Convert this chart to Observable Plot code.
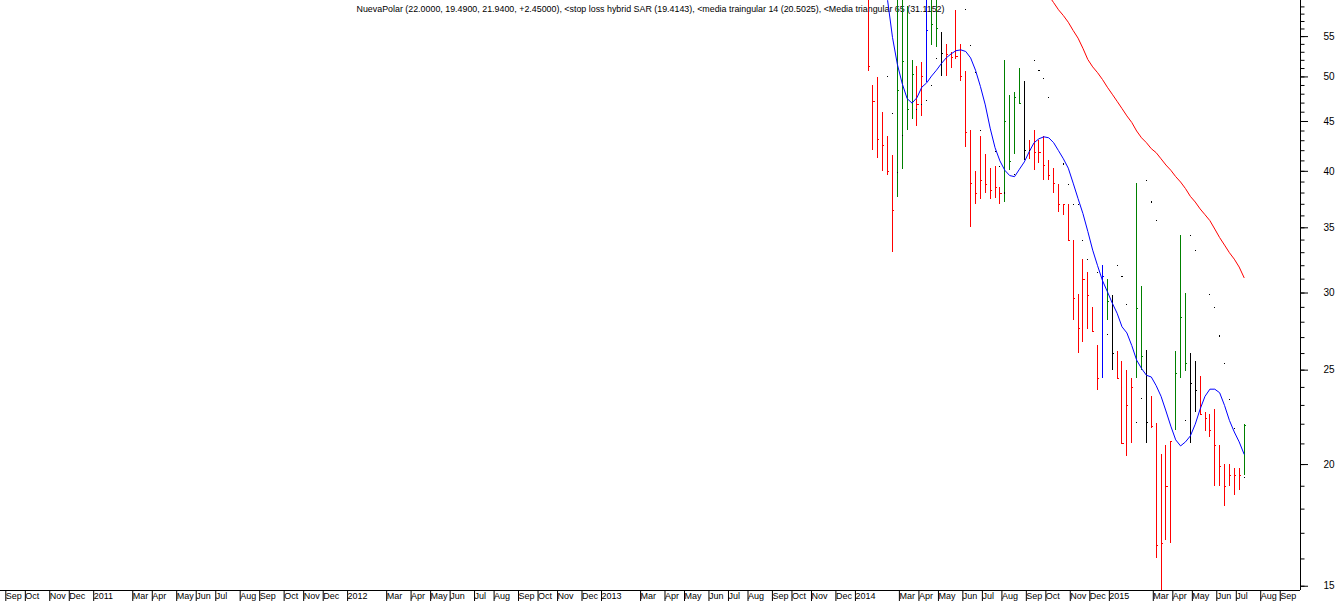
<!DOCTYPE html>
<html>
<head>
<meta charset="utf-8">
<script src="https://cdn.jsdelivr.net/npm/d3@7"></script>
<script src="https://cdn.jsdelivr.net/npm/@observablehq/plot@0.6"></script>
<style>
  html, body { margin: 0; padding: 0; background: #fff; }
  #chart { width: 1338px; height: 604px; overflow: hidden; }
</style>
</head>
<body>
<div id="chart"></div>
<script>
// ---------- DATA (weekly bars, NuevaPolar) ----------
const titleText = "NuevaPolar (22.0000, 19.4900, 21.9400, +2.45000), <stop loss hybrid SAR (19.4143), <media traingular 14 (20.5025), <Media triangular 65 (31.1152)";

const firstWeek = "2014-01-20"; // Monday of the first visible weekly bar

const high = [64, 49.0, 49.9, 46.0, 43.4, 41.5, 63, 62, 59, 52.0,
  51.3, 51.7, 63, 61, 61, 55.5, 54.0, 53.0, 58.5, 54.0,
  50.6, 44.1, 40.0, 43.4, 41.6, 40.3, 40.5, 38.5, 52.0, 47.8,
  48.2, 51.0, 49.5, 43.0, 44.1, 43.0, 43.4, 41.0, 40.3, 38.8,
  37.0, 37.0, 34.0, 29.9, 32.5, 31.5, 29.0, 26.5, 32.0, 31.0,
  29.8, 26.1, 25.5, 25.0, 24.5, 38.9, 30.5, 26.2, 23.5, 22.05,
  20.5, 20.9, 21.1, 26.1, 34.4, 30.0, 26.0, 25.5, 24.6, 22.6,
  22.5, 22.8, 20.9, 20.0, 20.0, 19.8, 19.8, 22.0];

const low = [50.6, 42.0, 41.2, 40.0, 39.6, 33.0, 37.6, 40.2, 44.1, 45.2,
  44.5, 45.5, 49.4, 53.9, 53.6, 50.1, 50.1, 51.0, 52.1, 49.5,
  42.3, 35.0, 37.0, 37.4, 38.0, 37.4, 37.5, 37.0, 37.2, 40.1,
  41.6, 47.0, 41.0, 41.1, 40.1, 40.7, 39.1, 39.1, 38.0, 36.3,
  36.0, 34.0, 28.1, 26.0, 26.7, 27.5, 27.4, 23.8, 24.5, 28.1,
  25.0, 24.5, 21.0, 20.4, 21.0, 24.5, 25.0, 21.0, 21.8, 16.0,
  14.7, 16.7, 16.6, 21.7, 24.5, 24.9, 21.0, 22.6, 22.5, 21.6,
  21.3, 19.0, 19.0, 18.1, 19.0, 18.6, 18.8, 19.49];

const close = [51.2, 47.2, 43.1, 42.5, 40.0, 36.5, 48.4, 51.8, 46.3, 50.3,
  46.8, 50.0, 55.8, 56.6, 56.0, 52.9, 52.7, 52.4, 52.5, 50.1,
  43.8, 38.9, 38.0, 39.1, 38.8, 38.2, 38.5, 38.0, 45.0, 40.9,
  47.6, 47.0, 42.0, 42.1, 41.8, 41.8, 40.6, 39.6, 38.9, 37.0,
  37.0, 34.0, 29.6, 27.6, 31.0, 29.8, 27.4, 24.5, 31.2, 29.4,
  26.0, 24.5, 21.0, 23.0, 24.0, 28.9, 25.8, 22.1, 21.9, 16.5,
  16.6, 19.0, 21.1, 24.8, 28.3, 25.4, 24.2, 23.8, 22.5, 22.3,
  21.7, 20.9, 19.9, 19.0, 19.5, 19.5, 19.49, 21.94];

// bar state (coloured by the charting package)
const barState = [
  "down","down","down","down","down","down","up","up","up","up",
  "down","down","turn","up","up","flat","down","down","down","down",
  "down","down","down","down","down","down","down","down","up","up",
  "up","up","flat","down","down","down","down","down","down","down",
  "down","down","down","down","down","down","down","down","turn","up",
  "flat","down","down","down","down","up","up","flat","down","down",
  "down","down","down","up","up","up","flat","flat","down","down",
  "down","down","down","down","down","down","down","up"];

// stop loss hybrid SAR (null = no dot drawn)
const sar = [null, null, null, null, 50.1, 45.9, 39.9, 43.5, null, null,
  46.3, 46.8, 47.3, 49.0, 52.2, null, null, null, null, null,
  58.6, 53.9, 50.5, 44.1, null, null, 41.9, 40.5, 38.0, null,
  39.7, null, null, 42.0, 52.0, 50.8, 49.8, 47.6, null, null,
  40.7, 38.8, 37.0, 37.0, 34.0, 32.5, null, 31.5, null, 27.2,
  26.0, 32.0, 31.2, 29.2, null, 22.1, 23.4, 39.1, 37.2, 35.6,
  null, null, null, null, null, 22.2, 34.4, 33.2, null, null,
  29.9, 29.0, 27.1, 25.4, 23.3, 21.8, null, 19.41];

// media triangular 14 (starts 3 bars after firstWeek)
const ma14Offset = 3;
const ma14 = [63.5, 59.9, 54.9, 51.5, 49.2, 47.5, 47.0, 47.6, 48.8, 49.3,
  50.1, 50.8, 51.6, 52.3, 52.8, 53.2, 53.3, 53.1, 52.3, 50.8,
  48.9, 46.8, 44.3, 42.3, 41.0, 40.1, 39.6, 39.5, 40.2, 40.9,
  41.9, 42.8, 43.2, 43.4, 43.3, 42.8, 42.0, 41.2, 40.3, 38.9,
  37.5, 36.2, 34.7, 33.2, 32.0, 30.9, 30.1, 29.3, 28.6, 27.7,
  27.3, 26.5, 25.6, 25.1, 24.7, 24.6, 24.1, 23.5, 22.7, 21.9,
  21.2, 20.9, 21.1, 21.4, 22.0, 22.8, 23.5, 23.9, 23.9, 23.7,
  23.0, 22.2, 21.6, 21.1, 20.5025];

// media triangular 65 (starts 35 bars after firstWeek)
const ma65Offset = 35;
const ma65 = [63.5, 62.1, 60.6, 59.6, 58.6, 57.8, 56.9, 55.8, 54.8, 53.5,
  52.1, 51.2, 50.5, 49.7, 48.8, 48.0, 47.2, 46.4, 45.6, 44.9,
  44.0, 43.3, 42.8, 42.2, 41.8, 41.2, 40.6, 40.1, 39.5, 39.0,
  38.4, 37.7, 37.2, 36.6, 36.1, 35.6, 34.9, 34.2, 33.6, 33.0,
  32.5, 31.9, 31.1152];

// x axis: months that carry a tick, and their labels
const tickMonths = ["2010-09","2010-10","2010-11","2010-12",
  "2011-01","2011-03","2011-04","2011-05","2011-06","2011-07","2011-08","2011-09","2011-10","2011-11","2011-12",
  "2012-01","2012-03","2012-04","2012-05","2012-06","2012-07","2012-08","2012-09","2012-10","2012-11","2012-12",
  "2013-01","2013-03","2013-04","2013-05","2013-06","2013-07","2013-08","2013-09","2013-10","2013-11","2013-12",
  "2014-01","2014-03","2014-04","2014-05","2014-06","2014-07","2014-08","2014-09","2014-10","2014-11","2014-12",
  "2015-01","2015-03","2015-04","2015-05","2015-06","2015-07","2015-08","2015-09"];
const tickLabels = ["Sep","Oct","Nov","Dec",
  "2011","Mar","Apr","May","Jun","Jul","Aug","Sep","Oct","Nov","Dec",
  "2012","Mar","Apr","May","Jun","Jul","Aug","Sep","Oct","Nov","Dec",
  "2013","Mar","Apr","May","Jun","Jul","Aug","Sep","Oct","Nov","Dec",
  "2014","Mar","Apr","May","Jun","Jul","Aug","Sep","Oct","Nov","Dec",
  "2015","Mar","Apr","May","Jun","Jul","Aug","Sep"];

// y axis (log) labelled and minor ticks
const yLabelled = [15, 20, 25, 30, 35, 40, 45, 50, 55];
const yMinor = d3.range(15, 60);

// ---------- BUILD ----------
const start = new Date(firstWeek + "T00:00:00Z");
const weekDate = i => d3.utcMonday.offset(start, i);

const bars = high.map((h, i) => ({
  date: weekDate(i), high: h, low: low[i], close: close[i], state: barState[i]
}));
const sarPts = sar.map((v, i) => ({date: weekDate(i), v})).filter(d => d.v != null);
const ma14Pts = ma14.map((v, i) => ({date: weekDate(i + ma14Offset), v}));
const ma65Pts = ma65.map((v, i) => ({date: weekDate(i + ma65Offset), v}));

// a month's tick sits on the weekly bar holding its first trading day
function monthTick(ym) {
  let d = new Date(ym + "-01T00:00:00Z");
  const wd = d.getUTCDay();
  if (wd === 6) d = d3.utcDay.offset(d, 2);
  if (wd === 0) d = d3.utcDay.offset(d, 1);
  return d3.utcMonday.floor(d);
}
const tickDates = tickMonths.map(monthTick);
const labelOf = new Map(tickDates.map((d, i) => [+d, tickLabels[i]]));

const xDomain = [new Date(Date.UTC(2010, 7, 25, 6, 29)), new Date(Date.UTC(2015, 9, 1, 21, 36))];
const yDomain = [14.85, 59.9];

const chart = Plot.plot({
  width: 1338,
  height: 604,
  marginLeft: 0,
  marginRight: 38,
  marginTop: 0,
  marginBottom: 14,
  style: {fontFamily: "'Liberation Sans', Arial, sans-serif", background: "#fff", color: "#000"},
  x: {type: "utc", domain: xDomain},
  y: {type: "log", domain: yDomain},
  color: {domain: ["down", "up", "flat", "turn"], range: ["#ff0000", "#008000", "#000000", "#0000ff"]},
  marks: [
    Plot.text([titleText], {frameAnchor: "top", dy: 5, fontSize: 9.5, fill: "#000"}),
    Plot.ruleX(bars, {x: "date", y1: "low", y2: "high", stroke: "state", strokeWidth: 1, clip: true, shapeRendering: "crispEdges"}),
    Plot.ruleY(bars, {y: "close", x1: "date", x2: d => d3.utcDay.offset(d.date, 3), stroke: "state", strokeWidth: 1, clip: true, shapeRendering: "crispEdges"}),
    Plot.line(ma14Pts, {x: "date", y: "v", stroke: "#0000ff", strokeWidth: 1, clip: true}),
    Plot.line(ma65Pts, {x: "date", y: "v", stroke: "#ff0000", strokeWidth: 1, clip: true}),
    Plot.dot(sarPts, {x: "date", y: "v", r: 0.6, symbol: "square", fill: "#000", stroke: null, clip: true, shapeRendering: "crispEdges"}),
    Plot.ruleY([yDomain[0]], {stroke: "#000"}),
    Plot.ruleX([xDomain[1]], {stroke: "#000"}),
    Plot.axisY(yMinor, {anchor: "right", tickSize: 3.5, tickFormat: () => "", stroke: "#000"}),
    Plot.axisY(yLabelled, {anchor: "right", tickSize: 7, tickPadding: 27, textAnchor: "end", fontSize: 10, tickFormat: d => String(d), stroke: "#000", fill: "#000"}),
    Plot.axisX(tickDates, {anchor: "bottom", tickSize: 11, tickPadding: -9, textAnchor: "start", dx: 2, fontSize: 9, tickFormat: d => labelOf.get(+d), stroke: "#000", fill: "#000"})
  ]
});

document.getElementById("chart").appendChild(chart);

// fit the header line to the width it has in the source chart
d3.select(chart).selectAll("text").filter(function() { return this.textContent.startsWith("NuevaPolar"); })
  .attr("textLength", 588).attr("lengthAdjust", "spacingAndGlyphs");
</script>
</body>
</html>
